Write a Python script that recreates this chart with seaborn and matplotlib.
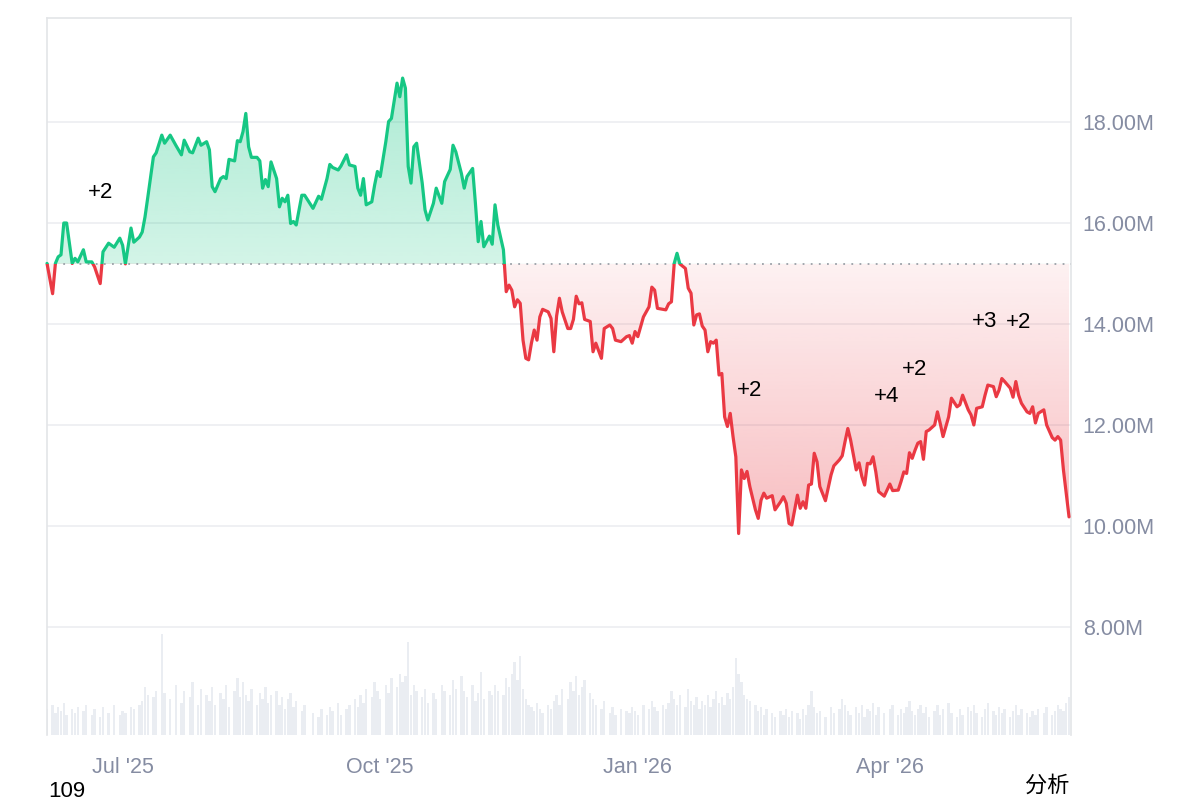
import numpy as np
import pandas as pd
import matplotlib
matplotlib.use("Agg")
import matplotlib.pyplot as plt
import matplotlib.dates as mdates
from matplotlib.patches import Rectangle, PathPatch
from matplotlib.colors import to_rgb
import seaborn as sns

# ---------------- data ----------------
start_date = "2025-06-04"
days = [0, 2, 3, 4, 5, 6, 7, 9, 10, 11,
        13, 14, 16, 17, 19, 20, 22, 24, 26, 27,
        28, 30, 31, 33, 34, 35, 36, 38, 39, 41,
        42, 44, 46, 48, 49, 51, 52, 54, 55, 57,
        58, 59, 60, 62, 63, 64, 65, 67, 68, 69,
        70, 71, 72, 73, 75, 76, 77, 78, 79, 80,
        82, 83, 84, 85, 86, 87, 88, 89, 91, 92,
        95, 97, 98, 100, 101, 102, 104, 105, 107, 108,
        110, 111, 112, 113, 114, 116, 117, 118, 119, 121,
        122, 123, 125, 126, 127, 128, 129, 130, 131, 132,
        134, 135, 136, 138, 139, 141, 142, 144, 145, 146,
        148, 149, 150, 152, 153, 154, 155, 156, 158, 159,
        160, 161, 163, 164, 165, 166, 167, 168, 169, 170,
        171, 172, 173, 174, 175, 176, 177, 179, 180, 181,
        182, 183, 184, 186, 187, 188, 189, 190, 191, 192,
        194, 195, 196, 198, 199, 201, 202, 203, 205, 207,
        208, 209, 210, 211, 213, 215, 216, 217, 218, 220,
        221, 222, 223, 224, 225, 226, 228, 229, 230, 231,
        232, 233, 234, 235, 236, 237, 238, 239, 240, 241,
        242, 243, 244, 245, 246, 247, 248, 249, 250, 251,
        253, 254, 255, 256, 257, 259, 260, 262, 263, 264,
        265, 266, 268, 269, 270, 271, 272, 273, 274, 275,
        276, 278, 280, 281, 283, 284, 285, 286, 287, 289,
        290, 291, 292, 293, 294, 295, 296, 297, 299, 301,
        302, 304, 305, 306, 307, 308, 309, 310, 311, 312,
        313, 314, 315, 317, 318, 319, 320, 322, 323, 325,
        326, 327, 329, 330, 331, 332, 334, 335, 336, 338,
        339, 340, 341, 342, 344, 345, 346, 347, 348, 350,
        351, 352, 353, 354, 356, 357, 359, 360, 361, 362,
        363, 364, 365]

market_cap_m = [15.20, 14.60, 15.20, 15.33, 15.37, 16.00, 16.00, 15.20, 15.30, 15.23,
                15.47, 15.23, 15.23, 15.13, 14.80, 15.43, 15.60, 15.52, 15.70, 15.56,
                15.19, 15.90, 15.62, 15.72, 15.82, 16.12, 16.51, 17.31, 17.39, 17.74,
                17.58, 17.74, 17.54, 17.35, 17.64, 17.41, 17.39, 17.68, 17.54, 17.61,
                17.45, 16.72, 16.62, 16.88, 16.92, 16.88, 17.26, 17.23, 17.63, 17.61,
                17.81, 18.17, 17.51, 17.30, 17.30, 17.23, 16.69, 16.86, 16.72, 17.21,
                16.88, 16.32, 16.49, 16.42, 16.55, 15.99, 16.03, 15.96, 16.55, 16.55,
                16.29, 16.53, 16.47, 16.88, 17.16, 17.10, 17.05, 17.13, 17.35, 17.15,
                17.12, 16.69, 16.55, 16.88, 16.36, 16.42, 16.75, 17.02, 16.92, 17.61,
                18.01, 18.07, 18.77, 18.50, 18.87, 18.67, 17.12, 16.79, 17.51, 17.58,
                16.79, 16.26, 16.06, 16.39, 16.69, 16.39, 16.82, 17.06, 17.54, 17.41,
                16.98, 16.69, 16.92, 17.08, 16.39, 15.63, 16.03, 15.53, 15.74, 15.58,
                16.36, 15.96, 15.47, 14.64, 14.77, 14.67, 14.34, 14.48, 14.41, 13.68,
                13.32, 13.29, 13.62, 13.88, 13.68, 14.14, 14.29, 14.24, 14.11, 13.45,
                14.16, 14.51, 14.24, 13.91, 13.91, 14.09, 14.55, 14.40, 14.42, 14.09,
                14.05, 13.45, 13.62, 13.32, 13.91, 13.98, 13.91, 13.68, 13.65, 13.75,
                13.77, 13.62, 13.85, 13.75, 14.14, 14.34, 14.73, 14.67, 14.31, 14.29,
                14.28, 14.40, 14.44, 15.20, 15.40, 15.19, 15.10, 14.71, 14.61, 13.98,
                14.18, 14.20, 13.96, 13.88, 13.45, 13.65, 13.62, 13.68, 12.99, 13.02,
                12.16, 11.97, 12.23, 11.77, 11.37, 9.85, 11.11, 10.94, 11.08, 10.78,
                10.32, 10.15, 10.51, 10.65, 10.55, 10.60, 10.32, 10.48, 10.58, 10.45,
                10.05, 10.02, 10.61, 10.35, 10.48, 10.35, 10.81, 10.83, 11.44, 11.27,
                10.78, 10.50, 11.01, 11.19, 11.31, 11.39, 11.67, 11.93, 11.70, 11.11,
                11.25, 10.98, 10.81, 11.24, 11.23, 11.37, 11.07, 10.68, 10.59, 10.83,
                10.70, 10.71, 10.88, 11.07, 11.04, 11.45, 11.34, 11.50, 11.64, 11.67,
                11.32, 11.87, 11.90, 12.00, 12.26, 12.03, 11.77, 12.16, 12.53, 12.36,
                12.40, 12.59, 12.30, 12.20, 12.00, 12.33, 12.36, 12.59, 12.79, 12.76,
                12.56, 12.69, 12.92, 12.86, 12.73, 12.55, 12.86, 12.59, 12.43, 12.26,
                12.23, 12.36, 12.04, 12.23, 12.30, 12.00, 11.75, 11.70, 11.77, 11.70,
                11.11, 10.65, 10.18]

volume = [26, 30, 22, 28, 24, 32, 20, 26, 22, 28,
          24, 30, 20, 26, 18, 28, 22, 30, 20, 24,
          22, 28, 26, 30, 34, 48, 40, 38, 44, 100,
          42, 36, 50, 32, 44, 38, 52, 30, 46, 40,
          34, 48, 30, 42, 36, 50, 28, 44, 56, 38,
          52, 40, 34, 46, 30, 42, 36, 48, 32, 40,
          44, 30, 38, 26, 36, 42, 28, 34, 24, 30,
          22, 18, 26, 20, 28, 24, 32, 20, 26, 30,
          36, 28, 40, 32, 46, 38, 52, 44, 36, 50,
          42, 56, 48, 60, 52, 58, 92, 40, 50, 44,
          38, 46, 32, 42, 36, 50, 44, 40, 54, 46,
          58, 44, 38, 50, 34, 42, 62, 36, 44, 40,
          50, 44, 40, 56, 48, 60, 72, 54, 78, 46,
          36, 30, 28, 24, 32, 26, 22, 30, 26, 34,
          40, 30, 46, 36, 52, 44, 58, 40, 48, 54,
          42, 36, 30, 26, 34, 22, 28, 20, 26, 24,
          22, 28, 24, 20, 30, 26, 34, 28, 24, 30,
          26, 32, 44, 36, 30, 40, 28, 46, 34, 30,
          38, 26, 34, 30, 40, 28, 36, 44, 32, 38,
          30, 42, 36, 48, 76, 60, 52, 40, 36, 34,
          30, 24, 28, 20, 26, 22, 18, 24, 20, 26,
          18, 24, 22, 16, 26, 20, 30, 44, 28, 22,
          24, 18, 28, 22, 26, 36, 30, 24, 20, 28,
          22, 30, 18, 26, 24, 32, 20, 28, 22, 26,
          30, 20, 26, 22, 28, 34, 24, 20, 26, 30,
          22, 28, 18, 24, 30, 20, 26, 32, 22, 18,
          26, 20, 28, 24, 30, 22, 18, 26, 32, 24,
          20, 28, 22, 26, 18, 24, 30, 20, 26, 22,
          18, 24, 20, 26, 22, 28, 20, 24, 30, 26,
          24, 32, 38]

baseline_m = 15.19

annot_days = [19, 251, 300, 310, 335, 347]
annot_vals = [16.61, 12.69, 12.57, 13.09, 14.04, 14.02]
annot_text = ["+2", "+2", "+4", "+2", "+3", "+2"]

xtick_dates = ["2025-07-01", "2025-10-01", "2026-01-01", "2026-04-01"]
xtick_labels = ["Jul '25", "Oct '25", "Jan '26", "Apr '26"]
ytick_vals = [8, 10, 12, 14, 16, 18]
ytick_labels = ["8.00M", "10.00M", "12.00M", "14.00M", "16.00M", "18.00M"]

# ---------------- style ----------------
sns.set_style("white")
plt.rcParams["font.family"] = ["Liberation Sans", "Noto Sans CJK SC", "DejaVu Sans"]

GREEN = "#16c784"
RED = "#ea3943"
TICK_C = "#858ca2"
GRID_C = "#eceef1"
SPINE_C = "#e3e5e8"

dates = pd.to_datetime(start_date) + pd.to_timedelta(days, unit="D")
df = pd.DataFrame({"date": dates, "value": market_cap_m, "volume": volume})
xnum = mdates.date2num(df["date"])

fig = plt.figure(figsize=(12, 8), dpi=100)
ax = fig.add_axes([47 / 1200, 1 - 735 / 800, (1071 - 47) / 1200, (735 - 18) / 800])

ymin, ymax = 5.86, 20.06
x0 = mdates.date2num(pd.to_datetime(start_date))
x1 = x0 + 365.7

# volume on twin axis (drawn underneath)
axv = ax.twinx()
axv.set_zorder(0)
ax.set_zorder(1)
ax.patch.set_visible(False)
axv.bar(xnum, df["volume"], width=0.85, color="#eaedf2", linewidth=0, align="center")
axv.set_ylim(0, 710)
axv.set_yticks([])
for s in axv.spines.values():
    s.set_visible(False)

# main line (green above baseline, red below)
sns.lineplot(data=df, x="date", y="value", ax=ax, color=GREEN, linewidth=2.3, zorder=5)
line_g = ax.lines[-1]
sns.lineplot(data=df, x="date", y="value", ax=ax, color=RED, linewidth=2.3, zorder=5)
line_r = ax.lines[-1]
for ln in (line_g, line_r):
    ln.set_solid_joinstyle("round")
    ln.set_solid_capstyle("round")

ax.set_xlim(x0, x1)
ax.set_ylim(ymin, ymax)

rect_up = Rectangle((x0 - 5, baseline_m), 400, 50, transform=ax.transData,
                    facecolor="none", edgecolor="none")
rect_dn = Rectangle((x0 - 5, baseline_m - 50), 400, 50, transform=ax.transData,
                    facecolor="none", edgecolor="none")
ax.add_patch(rect_up)
ax.add_patch(rect_dn)
line_g.set_clip_path(rect_up)
line_r.set_clip_path(rect_dn)

# gradient fills clipped to area between line and baseline
poly = ax.fill_between(xnum, df["value"], baseline_m, facecolor="none", edgecolor="none")
clip_path = poly.get_paths()[0]
clip_patch = PathPatch(clip_path, transform=ax.transData, facecolor="none", edgecolor="none")
ax.add_patch(clip_patch)


def grad(color, a_top, a_bot, n=256):
    img = np.zeros((n, 1, 4))
    img[:, :, :3] = to_rgb(color)
    img[:, 0, 3] = np.linspace(a_top, a_bot, n)
    return img


im_g = ax.imshow(grad(GREEN, 0.40, 0.19), extent=[x0, x1, baseline_m, ymax],
                 aspect="auto", origin="upper", zorder=2, interpolation="bilinear")
im_g.set_clip_path(clip_patch)
im_r = ax.imshow(grad(RED, 0.07, 0.53), extent=[x0, x1, ymin, baseline_m],
                 aspect="auto", origin="upper", zorder=2, interpolation="bilinear")
im_r.set_clip_path(clip_patch)
ax.set_xlim(x0, x1)
ax.set_ylim(ymin, ymax)

# dotted baseline
ax.axhline(baseline_m, color="#9ba1a8", linestyle=(0, (1, 3.5)), linewidth=1.3, zorder=3)

# grid
for v in ytick_vals:
    ax.axhline(v, color=GRID_C, linewidth=1.2, zorder=1)

# annotations
for d, v, t in zip(annot_days, annot_vals, annot_text):
    dn = x0 + d
    ax.text(dn, v, t, ha="center", va="center", fontsize=16, color="black", zorder=6)

# axes styling
ax.yaxis.tick_right()
ax.set_yticks(ytick_vals)
ax.set_yticklabels(ytick_labels)
ax.set_xticks(mdates.date2num(pd.to_datetime(xtick_dates)))
ax.set_xticklabels(xtick_labels)
ax.tick_params(axis="both", length=0, colors=TICK_C, labelsize=15.5)
ax.tick_params(axis="x", pad=15.5)
ax.tick_params(axis="y", pad=8.5)
ax.set_xlabel("")
ax.set_ylabel("")
ax.grid(False)
for side in ("left", "top", "right"):
    ax.spines[side].set_color(SPINE_C)
    ax.spines[side].set_linewidth(1.2)
ax.spines["bottom"].set_visible(False)
axv.set_xlim(x0, x1)

fig.text(48 / 1200, 1 - 797 / 800, "109", ha="left", va="baseline", fontsize=16, color="black")
fig.text(1070 / 1200, 1 - 786 / 800, "分析", ha="right", va="center", fontsize=16, color="black")

fig.savefig("out.png", dpi=100)
